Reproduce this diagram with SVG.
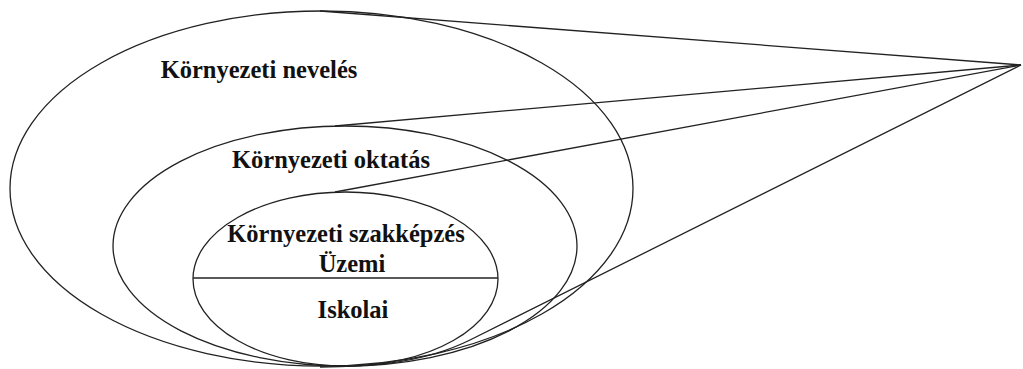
<svg xmlns="http://www.w3.org/2000/svg" width="1023" height="369" viewBox="0 0 1023 369">
<style>
.s{fill:none;stroke:#222;stroke-width:1.3}
.t{font-family:"Liberation Serif","Times New Roman",serif;font-weight:bold;font-size:24.5px;fill:#111;text-anchor:middle}
</style>
<rect width="1023" height="369" fill="#fff"/>
<g id="nevels">
<ellipse class="s" cx="321.5" cy="188.5" rx="311.5" ry="177.5"/>
<text class="t" x="259" y="78">Környezeti nevelés</text>
</g>
<g id="oktatas">
<ellipse class="s" cx="345" cy="246" rx="232" ry="120"/>
<text class="t" x="331" y="168">Környezeti oktatás</text>
</g>
<g id="szakkepzes">
<ellipse class="s" cx="345.5" cy="279" rx="152.5" ry="87"/>
<line class="s" x1="193" y1="278" x2="498" y2="278"/>
<text class="t" x="346" y="242">Környezeti szakképzés</text>
<text class="t" x="352" y="272">Üzemi</text>
<text class="t" x="353" y="318">Iskolai</text>
</g>
<g id="connectors">
<line class="s" x1="320" y1="11" x2="1021" y2="65"/>
<line class="s" x1="335" y1="126" x2="1021" y2="65"/>
<line class="s" x1="335" y1="192" x2="1021" y2="65"/>
<path class="s" d="M1021 65 L470 340 C420 365 360 367 320 367"/>
</g>
</svg>
